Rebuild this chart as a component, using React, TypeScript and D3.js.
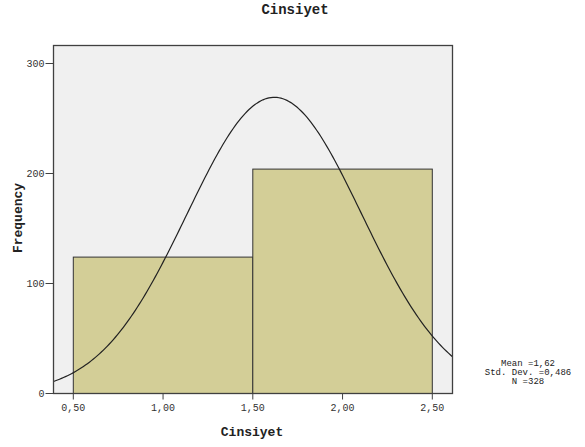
import React from "react";
import * as d3 from "d3";

const binStarts = [0.5, 1.5];
const binEnds = [1.5, 2.5];
const counts = [124, 204];
const xTicks = [0.5, 1.0, 1.5, 2.0, 2.5];
const xTickLabels = ["0,50", "1,00", "1,50", "2,00", "2,50"];
const yTicks = [0, 100, 200, 300];
const statMean = 1.62;
const statSd = 0.486;
const statN = 328;
const statLines = ["Mean =1,62", "Std. Dev. =0,486", "N =328"];

const W = 585;
const H = 447;
const L = 53.5, R = 452.5, T = 45.5, B = 393.5;
const mono = "'Liberation Mono', 'DejaVu Sans Mono', monospace";

export default function App() {
  const x = d3.scaleLinear().domain([0.5, 2.5]).range([73.3, 432.3]);
  const y = d3.scaleLinear().domain([0, 300]).range([B, 63.5]);
  const xmin = x.invert(L), xmax = x.invert(R);
  const binW = 1;
  const pts = d3.range(0, 201).map((i) => {
    const v = xmin + ((xmax - xmin) * i) / 200;
    const z = (v - statMean) / statSd;
    const f = (statN * binW) / (statSd * Math.sqrt(2 * Math.PI)) * Math.exp(-0.5 * z * z);
    return [v, f] as [number, number];
  });
  const line = d3.line<[number, number]>().x((d) => x(d[0])).y((d) => y(d[1])).curve(d3.curveLinear);
  const stroke = "#404040";
  return (
    <svg width={W} height={H} style={{ position: "absolute", left: 0, top: 0, background: "#fff" }}>
      <defs>
        <clipPath id="plot">
          <rect x={L} y={T} width={R - L} height={B - T} />
        </clipPath>
      </defs>
      <text x={295} y={14} textAnchor="middle" fontFamily={mono} fontWeight="bold" fontSize={14} fill="#222">Cinsiyet</text>
      <rect x={L} y={T} width={R - L} height={B - T} fill="#f0f0f0" />
      {counts.map((c, i) => (
        <rect key={i} x={x(binStarts[i])} y={y(c)} width={x(binEnds[i]) - x(binStarts[i])} height={B - y(c)}
          fill="#d3ce97" stroke="#333" strokeWidth={1} />
      ))}
      <path d={line(pts) || ""} fill="none" stroke="#222" strokeWidth={1.2} clipPath="url(#plot)" />
      <rect x={L} y={T} width={R - L} height={B - T} fill="none" stroke={stroke} strokeWidth={1.3} />
      {yTicks.map((t) => (
        <g key={t}>
          <line x1={L - 8} x2={L} y1={y(t)} y2={y(t)} stroke={stroke} strokeWidth={1} />
          <text x={L - 9} y={y(t) + 3.5} textAnchor="end" fontFamily={mono} fontSize={10} fill="#333">{t}</text>
        </g>
      ))}
      {xTicks.map((t, i) => (
        <g key={t}>
          <line x1={x(t)} x2={x(t)} y1={B} y2={B + 6} stroke={stroke} strokeWidth={1} />
          <text x={x(t)} y={B + 17} textAnchor="middle" fontFamily={mono} fontSize={10} fill="#333">{xTickLabels[i]}</text>
        </g>
      ))}
      <text x={252} y={436} textAnchor="middle" fontFamily={mono} fontWeight="bold" fontSize={13} fill="#222">Cinsiyet</text>
      <text transform={`translate(22,218) rotate(-90)`} textAnchor="middle" fontFamily={mono} fontWeight="bold" fontSize={13} fill="#222">Frequency</text>
      {statLines.map((s, i) => (
        <text key={i} x={528} y={366 + i * 9} textAnchor="middle" fontFamily={mono} fontSize={9} fill="#222">{s}</text>
      ))}
    </svg>
  );
}
